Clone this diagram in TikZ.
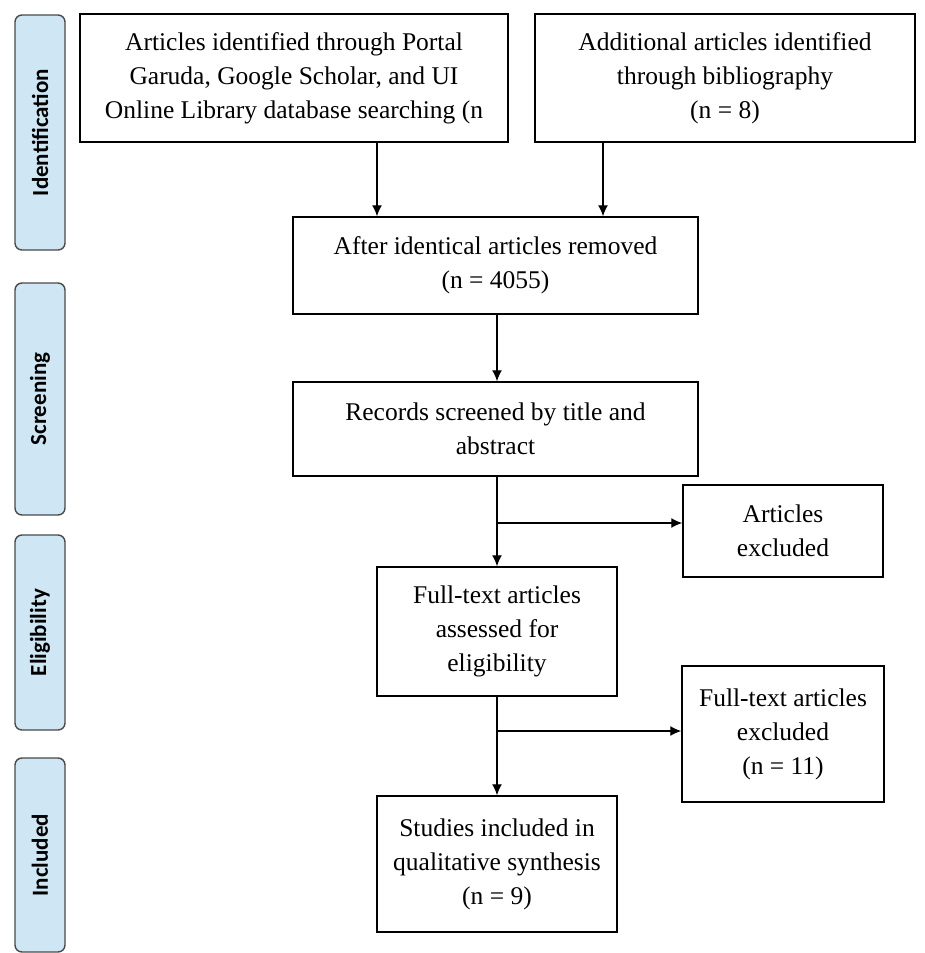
\documentclass[tikz,border=0pt]{standalone}
\usepackage{fontspec}
\setmainfont{Liberation Serif}
\newfontfamily\phasefont{Carlito}
\usetikzlibrary{arrows.meta}
\usetikzlibrary{positioning}
\definecolor{phaseblue}{HTML}{CFE6F5}
\definecolor{phaseline}{HTML}{4A4A4A}

\begin{document}
\begin{tikzpicture}[x=1pt,y=-1pt,
  box/.style={draw,line width=1.5pt,align=center,inner sep=4pt,font=\fontsize{25.5}{34}\selectfont},
  phase/.style={draw=phaseline,fill=phaseblue,line width=1.4pt,rounded corners=7pt,rotate=90,minimum height=50pt,inner sep=0pt,font=\phasefont\bfseries\fontsize{23}{26}\selectfont},
  arr/.style={-{Latex[length=11pt,width=10pt]},line width=1.3pt}]
  \useasboundingbox (0,0) rectangle (924,953);

  \node[phase,minimum width=235pt] (ph1) at (40,132.5){Identification};
  \node[phase,minimum width=232pt] (ph2) at (40,399){Screening};
  \node[phase,minimum width=195pt] (ph3) at (40,632.5){Eligibility};
  \node[phase,minimum width=194pt] (ph4) at (40,855){Included};

  \node[box,minimum width=428pt,minimum height=128pt] (db) at (294,78){Articles identified through Portal\\Garuda, Google Scholar, and UI\\Online Library database searching (n};
  \node[box,minimum width=380pt,minimum height=128pt] (bib) at (725,78){Additional articles identified\\through bibliography\\(n = 8)};
  \node[box,minimum width=405pt,minimum height=97pt] (dup) at (495.5,265.5){After identical articles removed\\(n = 4055)};
  \node[box,minimum width=405pt,minimum height=94pt] (scr) at (495.5,429){Records screened by title and\\abstract};
  \node[box,minimum width=200pt,minimum height=92pt] (exa) at (783,531){Articles\\excluded};
  \node[box,minimum width=240pt,minimum height=129pt] (full) at (497,631.5){Full-text articles\\assessed for\\eligibility};
  \node[box,minimum width=202pt,minimum height=136pt] (exb) at (783,734){Full-text articles\\excluded\\(n = 11)};
  \node[box,minimum width=240pt,minimum height=136pt] (inc) at (497,864){Studies included in\\qualitative synthesis\\(n = 9)};

  \coordinate (s1) at (497,523);
  \coordinate (s2) at (497,731);

  \draw[arr]([xshift=83pt]db.south)--([xshift=83pt]db.south |- dup.north);
  \draw[arr]([xshift=-122pt]bib.south)--([xshift=-122pt]bib.south |- dup.north);
  \draw[arr](dup.south -| s1)--(scr.north -| s1);
  \draw[arr](scr.south -| s1)--(full.north -| s1);
  \draw[arr](s1)--(s1 -| exa.west);
  \draw[arr](full.south)--(inc.north);
  \draw[arr](s2)--(s2 -| exb.west);
\end{tikzpicture}
\end{document}
